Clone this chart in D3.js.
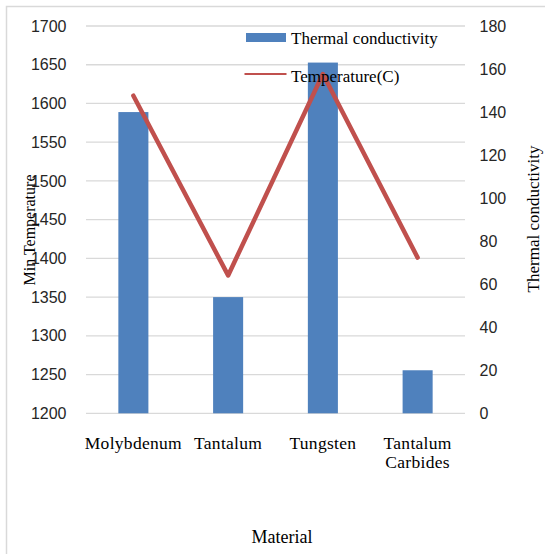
<!DOCTYPE html>
<html>
<head>
<meta charset="utf-8">
<script src="https://cdn.jsdelivr.net/npm/d3@7/dist/d3.min.js"></script>
<style>
  html, body { margin: 0; padding: 0; background: #fff; }
  svg { display: block; }
  .tick-label { font-family: "Liberation Sans", Arial, sans-serif; font-size: 16px; fill: #262626; }
  .serif { font-family: "Liberation Serif", "Times New Roman", serif; fill: #000; }
</style>
</head>
<body>
<svg id="chart" width="545" height="554"></svg>
<script>
// Materials and their properties
const materials = ["Molybdenum", "Tantalum", "Tungsten", "Tantalum Carbides"];
const thermalConductivity = [140, 54, 163, 20];      // bars, right axis
const minTemperature = [1610, 1378, 1638, 1401];      // line, left axis
const leftTicks = [1200, 1250, 1300, 1350, 1400, 1450, 1500, 1550, 1600, 1650, 1700];
const rightTicks = [0, 20, 40, 60, 80, 100, 120, 140, 160, 180];

const svg = d3.select("#chart");
const plot = { left: 86, right: 465, top: 26, bottom: 413.3 };

// chart frame
svg.append("rect")
  .attr("x", 6.5).attr("y", 6.5)
  .attr("width", 545).attr("height", 560)
  .attr("fill", "none").attr("stroke", "#d9d9d9").attr("stroke-width", 1.5);

const x = d3.scaleBand()
  .domain(materials)
  .range([plot.left, plot.right])
  .paddingInner(0.683)
  .paddingOuter(0.683 / 2);

const yLeft = d3.scaleLinear().domain([1200, 1700]).range([plot.bottom, plot.top]);
const yRight = d3.scaleLinear().domain([0, 180]).range([plot.bottom, plot.top]);

// horizontal gridlines
svg.append("g")
  .selectAll("line")
  .data(leftTicks)
  .join("line")
  .attr("x1", plot.left).attr("x2", plot.right)
  .attr("y1", d => yLeft(d)).attr("y2", d => yLeft(d))
  .attr("stroke", "#d9d9d9").attr("stroke-width", 1.3);

// left axis
const gl = svg.append("g")
  .attr("transform", `translate(${plot.left},0)`)
  .call(d3.axisLeft(yLeft).tickValues(leftTicks).tickSize(0).tickPadding(19.5).tickFormat(d3.format("d")));
gl.select(".domain").remove();
gl.selectAll("text").attr("class", "tick-label").attr("fill", null).attr("font-family", null).attr("font-size", null);

// right axis
const gr = svg.append("g")
  .attr("transform", `translate(${plot.right},0)`)
  .call(d3.axisRight(yRight).tickValues(rightTicks).tickSize(0).tickPadding(14.5).tickFormat(d3.format("d")));
gr.select(".domain").remove();
gr.selectAll("text").attr("class", "tick-label").attr("fill", null).attr("font-family", null).attr("font-size", null);

// bars: thermal conductivity
svg.append("g")
  .selectAll("rect")
  .data(materials)
  .join("rect")
  .attr("x", d => x(d))
  .attr("width", x.bandwidth())
  .attr("y", (d, i) => yRight(thermalConductivity[i]))
  .attr("height", (d, i) => yRight(0) - yRight(thermalConductivity[i]))
  .attr("fill", "#4f81bd");

// line: minimum temperature
const line = d3.line()
  .x((d, i) => x(materials[i]) + x.bandwidth() / 2)
  .y(d => yLeft(d));
svg.append("path")
  .datum(minTemperature)
  .attr("d", line)
  .attr("fill", "none")
  .attr("stroke", "#c0504d")
  .attr("stroke-width", 4.5)
  .attr("stroke-linejoin", "round")
  .attr("stroke-linecap", "round");

// category labels, multi-word names wrapped onto separate lines
const cat = svg.append("g").attr("class", "serif").attr("font-size", 17.5)
  .attr("text-anchor", "middle").attr("letter-spacing", 0.3);
materials.forEach(m => {
  const cx = x(m) + x.bandwidth() / 2;
  m.split(" ").forEach((w, j) => {
    cat.append("text")
      .attr("x", cx)
      .attr("y", 449 + j * 18.5)
      .text(w);
  });
});

// axis titles
svg.append("text").attr("class", "serif")
  .attr("font-size", 18).attr("text-anchor", "middle")
  .attr("x", 282).attr("y", 542.5)
  .text("Material");

svg.append("text").attr("class", "serif")
  .attr("font-size", 16).attr("text-anchor", "middle")
  .attr("transform", "translate(35,230) rotate(-90)")
  .text("Min Temperature");

svg.append("text").attr("class", "serif")
  .attr("font-size", 17).attr("text-anchor", "middle")
  .attr("transform", "translate(539,219) rotate(-90)")
  .text("Thermal conductivity");

// legend
const legend = svg.append("g");
legend.append("rect")
  .attr("x", 246).attr("y", 33).attr("width", 40).attr("height", 9)
  .attr("fill", "#4f81bd");
legend.append("text").attr("class", "serif").attr("font-size", 17)
  .attr("x", 291).attr("y", 43.5).text("Thermal conductivity");
legend.append("line")
  .attr("x1", 244.5).attr("x2", 286.5).attr("y1", 74).attr("y2", 74)
  .attr("stroke", "#c0504d").attr("stroke-width", 2);
legend.append("text").attr("class", "serif").attr("font-size", 17)
  .attr("x", 291).attr("y", 81.5).text("Temperature(C)");
</script>
</body>
</html>
